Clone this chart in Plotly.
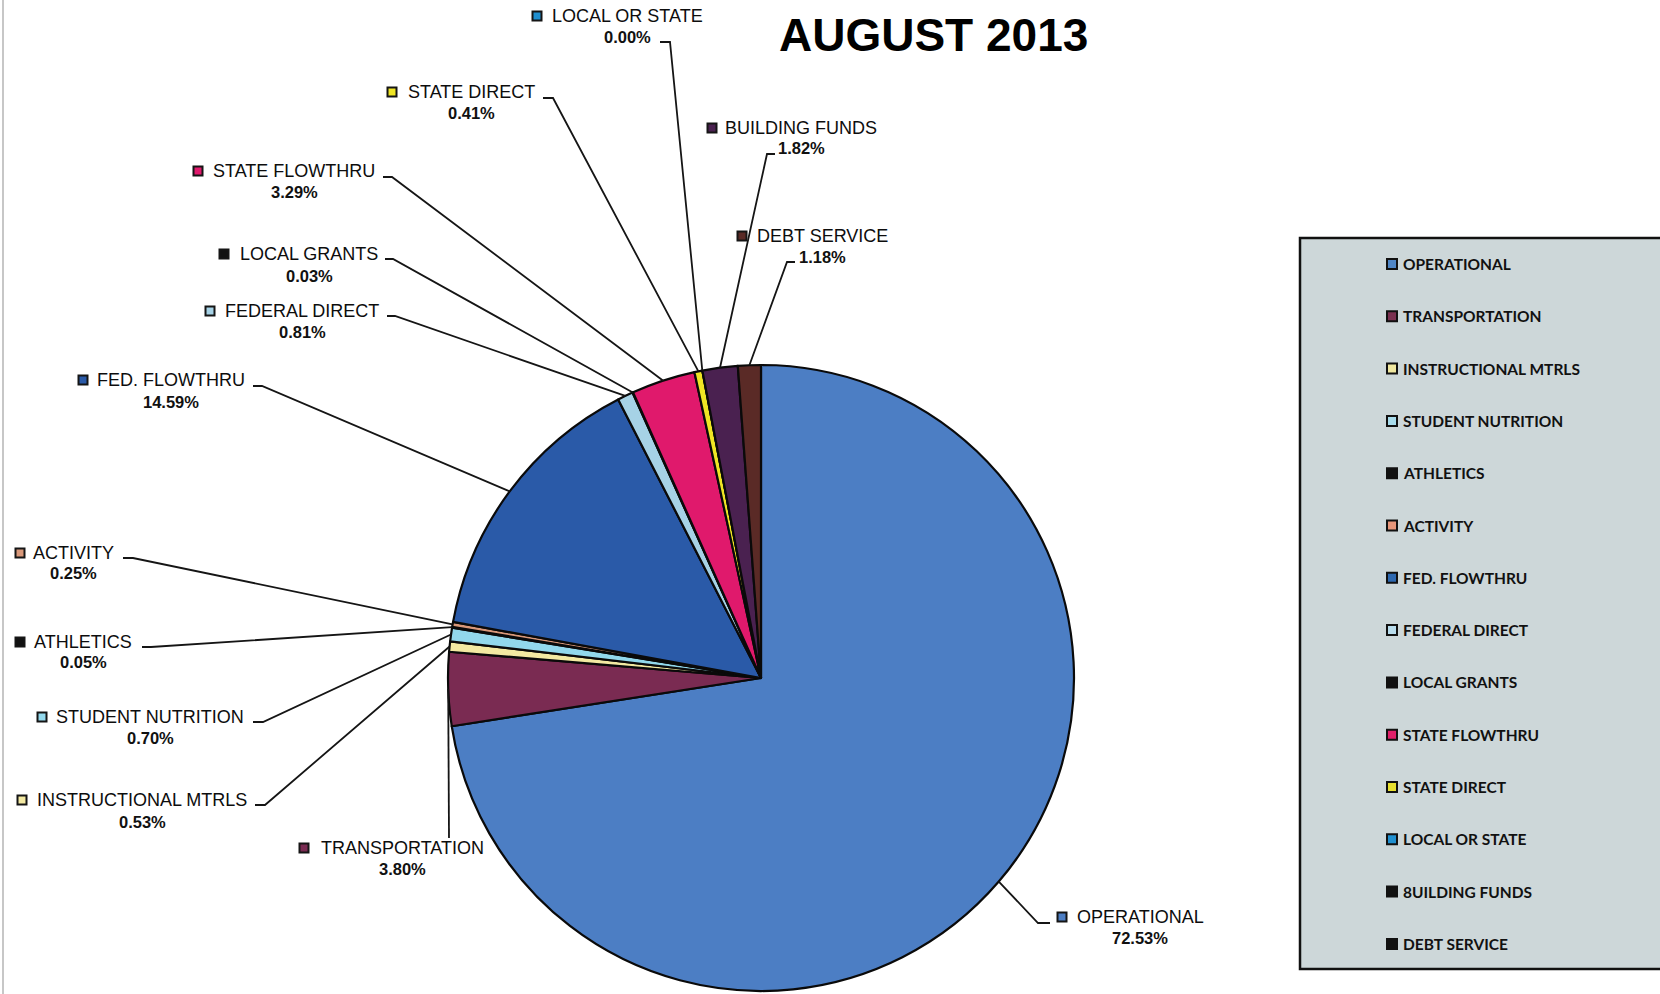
import math
import plotly.graph_objects as go

# ---- data -------------------------------------------------------------
categories = ["OPERATIONAL", "TRANSPORTATION", "INSTRUCTIONAL MTRLS", "STUDENT NUTRITION",
              "ATHLETICS", "ACTIVITY", "FED. FLOWTHRU", "FEDERAL DIRECT", "LOCAL GRANTS",
              "STATE FLOWTHRU", "STATE DIRECT", "LOCAL OR STATE", "BUILDING FUNDS", "DEBT SERVICE"]
shares = [72.53, 3.80, 0.53, 0.70, 0.05, 0.25, 14.59, 0.81, 0.03, 3.29, 0.41, 0.00, 1.82, 1.18]
legend_labels = ["OPERATIONAL", "TRANSPORTATION", "INSTRUCTIONAL MTRLS", "STUDENT NUTRITION",
                 "ATHLETICS", "ACTIVITY", "FED. FLOWTHRU", "FEDERAL DIRECT", "LOCAL GRANTS",
                 "STATE FLOWTHRU", "STATE DIRECT", "LOCAL OR STATE", "8UILDING FUNDS", "DEBT SERVICE"]
title_text = "AUGUST 2013"

# ---- styling ----------------------------------------------------------
slice_colors = ["#4c7ec4", "#7a2b52", "#f3e9a2", "#92d8ec", "#111111", "#d9987a", "#2a5aa8",
                "#a6d2e6", "#111111", "#e0196c", "#efe524", "#1f8fd0", "#4a2150", "#5a2a26"]
legend_colors = ["#4f86c6", "#7a3050", "#f0e8a0", "#a8dcec", "#111111", "#e8967a", "#2d68b0",
                 "#b8dcec", "#111111", "#e0206a", "#e8e030", "#2090d0", "#111111", "#111111"]

W, H = 1660, 994
CX, CY, R = 761, 678, 313          # pie centre / radius in page pixels

# label layout: name centre x, name y, pct y, marker x, leader jog (x0, x1, y)
label_layout = {
    "OPERATIONAL":         (1140, 917, 938, 1062, (1050, 1038, 923)),
    "TRANSPORTATION":      (402, 848, 869, 304, (449, 449, 838)),
    "INSTRUCTIONAL MTRLS": (142, 800, 822, 22, (255, 265, 805)),
    "STUDENT NUTRITION":   (150, 717, 738, 42, (253, 263, 722)),
    "ATHLETICS":           (83, 642, 662, 20, (142, 151, 647)),
    "ACTIVITY":            (73, 553, 573, 20, (123, 133, 558)),
    "FED. FLOWTHRU":       (171, 380, 402, 83, (253, 262, 386)),
    "FEDERAL DIRECT":      (302, 311, 332, 210, (387, 395, 316)),
    "LOCAL GRANTS":        (309, 254, 276, 224, (385, 393, 259)),
    "STATE FLOWTHRU":      (294, 171, 192, 198, (383, 392, 177)),
    "STATE DIRECT":        (471, 92, 113, 392, (543, 553, 98)),
    "LOCAL OR STATE":      (627, 16, 37, 537, (660, 670, 42)),
    "BUILDING FUNDS":      (801, 128, 148, 712, (775, 767, 154)),
    "DEBT SERVICE":        (822, 236, 257, 742, (795, 787, 262)),
}

fig = go.Figure()

# pixel-space helper axes for shapes and annotations
fig.add_trace(go.Scatter(x=[], y=[], showlegend=False, hoverinfo="skip"))

fig.add_trace(go.Pie(
    labels=categories, values=shares, sort=False, direction="clockwise", rotation=0,
    textinfo="none", showlegend=False,
    marker=dict(colors=slice_colors, line=dict(color="#0a0a0a", width=2.2)),
    domain=dict(x=[(CX - R) / W, (CX + R) / W], y=[(H - CY - R) / H, (H - CY + R) / H]),
))

shapes = []
annotations = []

# scan edge at the left of the sheet
shapes.append(dict(type="line", x0=3, x1=3, y0=0, y1=H, xref="x", yref="y",
                   line=dict(color="#b4b4b4", width=1.5)))

# leader lines + outside labels
total = sum(shares)
cum = 0.0
LABEL_FONT = "Liberation Sans, Arial, sans-serif"
for cat, val, col in zip(categories, shares, slice_colors):
    mid = (cum + val / 2) / total
    cum += val
    ang = 2 * math.pi * mid
    ex, ey = CX + R * math.sin(ang), CY - R * math.cos(ang)
    ncx, ny, py, mx, (jx0, jx1, jy) = label_layout[cat]
    shapes.append(dict(type="path", xref="x", yref="y",
                       path=f"M {jx0} {jy} L {jx1} {jy} L {ex:.1f} {ey:.1f}",
                       line=dict(color="#151515", width=1.8)))
    shapes.append(dict(type="rect", xref="x", yref="y", x0=mx - 4.5, x1=mx + 4.5,
                       y0=ny - 4.5, y1=ny + 4.5, fillcolor=col,
                       line=dict(color="#151515", width=2)))
    annotations.append(dict(x=ncx, y=ny, xref="x", yref="y", text=cat, showarrow=False,
                            xanchor="center", yanchor="middle",
                            font=dict(family=LABEL_FONT, size=18, color="#0d0d0d")))
    annotations.append(dict(x=ncx, y=py, xref="x", yref="y", text=f"<b>{val:.2f}%</b>",
                            showarrow=False, xanchor="center", yanchor="middle",
                            font=dict(family=LABEL_FONT, size=16.5, color="#111111")))

# legend panel
shapes.append(dict(type="rect", xref="x", yref="y", x0=1300, x1=1672, y0=238, y1=969,
                   fillcolor="#cdd7d9", line=dict(color="#111111", width=2.5), layer="below"))
for i, (name, col) in enumerate(zip(legend_labels, legend_colors)):
    ly = 264 + 52.3 * i
    shapes.append(dict(type="rect", xref="x", yref="y", x0=1387, x1=1397,
                       y0=ly - 5, y1=ly + 5, fillcolor=col,
                       line=dict(color="#111111", width=2)))
    annotations.append(dict(x=1401, y=ly, xref="x", yref="y", text=f"<b>{name}</b>",
                            showarrow=False, xanchor="left", yanchor="middle",
                            font=dict(family="Lato, sans-serif", size=15.5, color="#111111")))

# title
annotations.append(dict(x=933, y=35, xref="x", yref="y", text=f"<b>{title_text}</b>",
                        showarrow=False, xanchor="center", yanchor="middle",
                        font=dict(family=LABEL_FONT, size=46, color="#000000")))

fig.update_layout(
    width=W, height=H, margin=dict(l=0, r=0, t=0, b=0),
    paper_bgcolor="white", plot_bgcolor="rgba(0,0,0,0)",
    xaxis=dict(range=[0, W], visible=False, fixedrange=True, domain=[0, 1]),
    yaxis=dict(range=[H, 0], visible=False, fixedrange=True, domain=[0, 1]),
    shapes=shapes, annotations=annotations, showlegend=False,
)

fig.write_html("out.html")
